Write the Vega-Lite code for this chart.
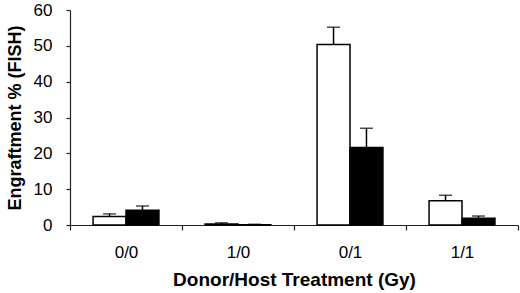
{
  "$schema": "https://vega.github.io/schema/vega-lite/v6.json",
  "autosize": {"type": "none"},
  "width": 448,
  "height": 215,
  "padding": {"left": 70, "top": 10, "right": 2, "bottom": 68},
  "background": "white",
  "config": {
    "view": {"stroke": null},
    "font": "Liberation Sans",
    "axis": {
      "labelFont": "Liberation Sans",
      "titleFont": "Liberation Sans",
      "labelFontSize": 17,
      "titleFontSize": 18,
      "titleFontWeight": "bold",
      "labelColor": "black",
      "titleColor": "black",
      "domainColor": "#222",
      "tickColor": "#222",
      "domainWidth": 1.2,
      "tickWidth": 1.2,
      "grid": false
    }
  },
  "data": {
    "values": [
      {"treatment": "0/0", "series": "Series 1", "value": 2.4, "upper": 3.1},
      {"treatment": "0/0", "series": "Series 2", "value": 4.1, "upper": 5.3},
      {"treatment": "1/0", "series": "Series 1", "value": 0.3, "upper": 0.6},
      {"treatment": "1/0", "series": "Series 2", "value": 0.1, "upper": 0.2},
      {"treatment": "0/1", "series": "Series 1", "value": 50.4, "upper": 55.2},
      {"treatment": "0/1", "series": "Series 2", "value": 21.6, "upper": 27.0},
      {"treatment": "1/1", "series": "Series 1", "value": 6.8, "upper": 8.3},
      {"treatment": "1/1", "series": "Series 2", "value": 1.9, "upper": 2.5}
    ]
  },
  "encoding": {
    "x": {
      "field": "treatment",
      "type": "nominal",
      "sort": ["0/0", "1/0", "0/1", "1/1"],
      "scale": {"paddingInner": 0, "paddingOuter": 0},
      "axis": {
        "title": "Donor/Host Treatment (Gy)",
        "titleFontSize": 19,
        "labelAngle": 0,
        "tickBand": "extent",
        "tickSize": 5,
        "labelPadding": 14,
        "titlePadding": 10
      }
    },
    "xOffset": {
      "field": "series",
      "type": "nominal",
      "scale": {"paddingInner": 0, "paddingOuter": 0.7}
    }
  },
  "layer": [
    {
      "mark": {"type": "bar", "stroke": "black", "strokeWidth": 1.5},
      "encoding": {
        "y": {
          "field": "value",
          "type": "quantitative",
          "scale": {"domain": [0, 60], "nice": false},
          "axis": {
            "title": "Engraftment % (FISH)",
            "values": [0, 10, 20, 30, 40, 50, 60],
            "labelOverlap": false,
            "tickSize": 4,
            "labelPadding": 14,
            "titlePadding": 9
          }
        },
        "fill": {
          "field": "series",
          "type": "nominal",
          "scale": {"domain": ["Series 1", "Series 2"], "range": ["white", "black"]},
          "legend": null
        }
      }
    },
    {
      "mark": {"type": "rule", "color": "black", "strokeWidth": 1.5},
      "encoding": {
        "y": {
          "field": "value",
          "type": "quantitative",
          "axis": {
            "title": "Engraftment % (FISH)",
            "values": [0, 10, 20, 30, 40, 50, 60],
            "labelOverlap": false,
            "tickSize": 4,
            "labelPadding": 14,
            "titlePadding": 9
          }
        },
        "y2": {"field": "upper"}
      }
    },
    {
      "mark": {"type": "tick", "color": "black", "thickness": 1.5, "size": 13, "orient": "horizontal"},
      "encoding": {
        "y": {
          "field": "upper",
          "type": "quantitative",
          "axis": {
            "title": "Engraftment % (FISH)",
            "values": [0, 10, 20, 30, 40, 50, 60],
            "labelOverlap": false,
            "tickSize": 4,
            "labelPadding": 14,
            "titlePadding": 9
          }
        }
      }
    }
  ]
}
